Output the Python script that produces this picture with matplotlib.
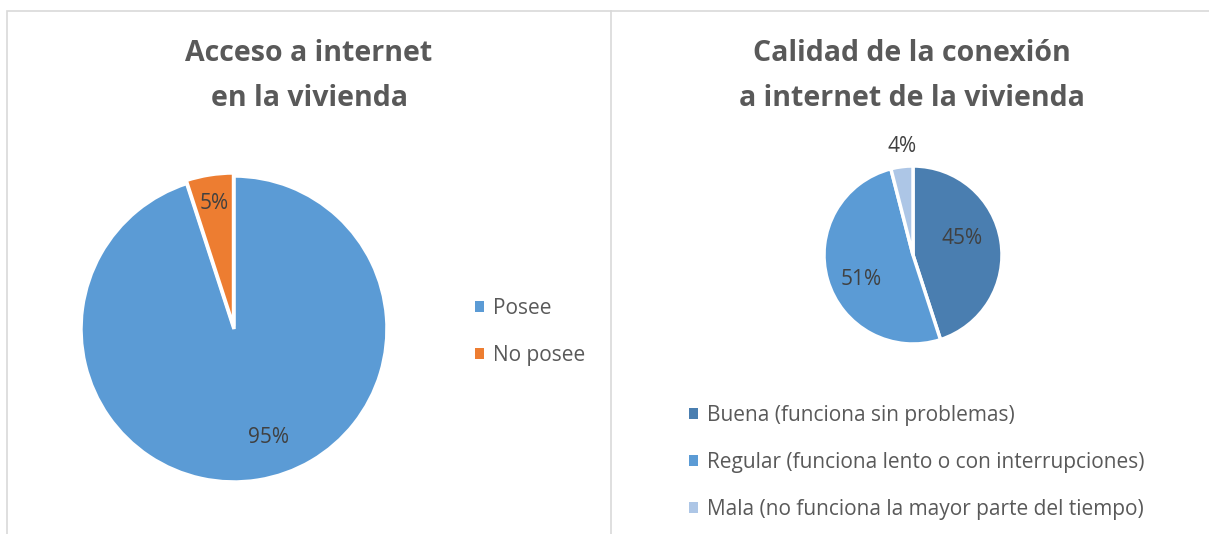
import matplotlib
matplotlib.use("Agg")
import matplotlib.pyplot as plt
from matplotlib.patches import Rectangle
import numpy as np

# ---- data ----
acceso_labels = ["Posee", "No posee"]
acceso_values = [95, 5]
acceso_colors = ["#5B9BD5", "#ED7D31"]

calidad_labels = ["Buena (funciona sin problemas)",
                  "Regular (funciona lento o con interrupciones)",
                  "Mala (no funciona la mayor parte del tiempo)"]
calidad_values = [45, 51, 4]
calidad_colors = ["#4A7EB0", "#5B9BD5", "#ADC6E6"]

title_left = "Acceso a internet\nen la vivienda"
title_right = "Calidad de la conexión\na internet de la vivienda"

W, H = 1209, 534
DPI = 100
plt.rcParams['font.family'] = ['Open Sans', 'DejaVu Sans']
fig = plt.figure(figsize=(W / DPI, H / DPI), dpi=DPI)
fig.patch.set_facecolor("white")

TXT = "#595959"
LBL = "#404040"


def px_axes(cx, cy, r):
    ax = fig.add_axes([(cx - r) / W, (H - cy - r) / H, 2 * r / W, 2 * r / H])
    ax.set_axis_off()
    return ax


def place_labels(ax, wedges, values, fracs, dists):
    for w, v, f, d in zip(wedges, values, fracs, dists):
        # position along the wedge (fraction from its start in drawing direction)
        ang = np.deg2rad(w.theta2 - f * (w.theta2 - w.theta1))
        ax.text(d * np.cos(ang), d * np.sin(ang), f"{v}%", ha="center", va="center",
                fontsize=15, color=LBL, clip_on=False)


# panel borders
border = "#D9D9D9"
fig.add_artist(Rectangle((7 / W, -0.05), (611 - 7) / W, (H - 11) / H + 0.05,
                         transform=fig.transFigure, fill=False, edgecolor=border, lw=1.2))
fig.add_artist(plt.Line2D([611 / W, 1.0], [(H - 11) / H] * 2, transform=fig.transFigure,
                          color=border, lw=1.2))

# ---- left pie ----
axL = px_axes(234, 329, 153)
wL, _ = axL.pie(acceso_values, colors=acceso_colors, startangle=90, counterclock=False,
                radius=1.0, wedgeprops=dict(edgecolor="white", linewidth=2.5),
                explode=[0, 0.02])
axL.set_xlim(-1, 1)
axL.set_ylim(-1, 1)
place_labels(axL, wL, acceso_values, [0.474, 0.5], [0.742, 0.83])

# ---- right pie ----
axR = px_axes(913, 255, 89)
wR, _ = axR.pie(calidad_values, colors=calidad_colors, startangle=90, counterclock=False,
                radius=1.0, wedgeprops=dict(edgecolor="white", linewidth=2.5))
axR.set_xlim(-1, 1)
axR.set_ylim(-1, 1)
place_labels(axR, wR, calidad_values, [0.44, 0.45, 0.6], [0.58, 0.64, 1.23])

# ---- titles ----
fig.text(309 / W, 1 - 76 / H, title_left, ha="center", va="center", fontsize=20.5,
         fontweight="bold", color=TXT, linespacing=1.72)
fig.text(912 / W, 1 - 76 / H, title_right, ha="center", va="center", fontsize=20.5,
         fontweight="bold", color=TXT, linespacing=1.72)

# ---- legends ----
common = dict(loc="upper left", frameon=False, fontsize=15, labelcolor=TXT,
              handlelength=0.43, handleheight=0.43, handletextpad=0.45,
              labelspacing=1.25, borderaxespad=0, borderpad=0)
legL = fig.legend(wL, acceso_labels, bbox_to_anchor=(475 / W, 1 - 298 / H), **common)
legR = fig.legend(wR, calidad_labels, bbox_to_anchor=(689 / W, 1 - 405 / H), **common)
for leg in (legL, legR):
    for h in leg.legend_handles:
        h.set_edgecolor("none")

fig.savefig("out.png", dpi=DPI, facecolor="white")
